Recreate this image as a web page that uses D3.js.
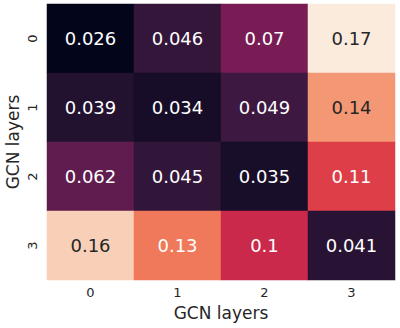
<!DOCTYPE html>
<html lang="en">
<head>
    <meta charset="UTF-8">
    <title>heatmap</title>
    <script src="https://d3js.org/d3.v7.min.js"></script>
    <style>
        body { margin: 0; background: white; }
        text { font-family: "DejaVu Sans", sans-serif; }
    </style>
</head>
<body>
    <script>
        let rows = ['0', '1', '2', '3'];
        let cols = ['0', '1', '2', '3'];
        let values = [
            [0.026, 0.046, 0.07, 0.17],
            [0.039, 0.034, 0.049, 0.14],
            [0.062, 0.045, 0.035, 0.11],
            [0.16, 0.13, 0.1, 0.041]
        ];
        let xTitle = 'GCN layers';
        let yTitle = 'GCN layers';

        let width = 400;
        let height = 328;
        let margin = {left: 47, top: 4, right: 5, bottom: 48};

        let cells = [];
        values.forEach((r, i) => r.forEach((v, j) => cells.push({row: rows[i], col: cols[j], v: v})));

        // seaborn "rocket"
        let rocket = d3.interpolateRgbBasis(['#03051a', '#35193e', '#701f57', '#ad1759',
                                              '#e13342', '#f37651', '#f6b48f', '#faebdd']);
        let color = d3.scaleSequential(rocket)
            .domain(d3.extent(cells, d => d.v));

        // relative luminance, like seaborn's annotation colour choice
        function lum(c) {
            let rgb = d3.rgb(c);
            let f = v => { v /= 255; return v <= 0.03928 ? v / 12.92 : Math.pow((v + 0.055) / 1.055, 2.4); };
            return 0.2126 * f(rgb.r) + 0.7152 * f(rgb.g) + 0.0722 * f(rgb.b);
        }

        let x = d3.scaleBand().domain(cols).range([margin.left, width - margin.right]);
        let y = d3.scaleBand().domain(rows).range([margin.top, height - margin.bottom]);

        let svg = d3.select('body').append('svg')
            .attr('width', width)
            .attr('height', height);

        svg.selectAll('rect.cell').data(cells).enter().append('rect')
            .attr('class', 'cell')
            .attr('x', d => x(d.col))
            .attr('y', d => y(d.row))
            .attr('width', x.bandwidth())
            .attr('height', y.bandwidth())
            .attr('fill', d => color(d.v))
            .attr('stroke', d => color(d.v))
            .attr('stroke-width', 0.5);

        svg.selectAll('text.annot').data(cells).enter().append('text')
            .attr('class', 'annot')
            .attr('x', d => x(d.col) + x.bandwidth() / 2)
            .attr('y', d => y(d.row) + y.bandwidth() / 2)
            .attr('text-anchor', 'middle')
            .attr('dy', '0.36em')
            .style('font-size', '18px')
            .attr('fill', d => lum(color(d.v)) > 0.408 ? '#262626' : 'white')
            .text(d => d.v);

        let xAxis = svg.append('g')
            .attr('transform', `translate(0,${height - margin.bottom})`)
            .call(d3.axisBottom(x).tickSize(0).tickPadding(8));
        let yAxis = svg.append('g')
            .attr('transform', `translate(${margin.left},0)`)
            .call(d3.axisLeft(y).tickSize(0).tickPadding(0));
        [xAxis, yAxis].forEach(a => {
            a.select('.domain').remove();
            a.selectAll('text')
                .style('font-family', '"DejaVu Sans", sans-serif')
                .style('font-size', '13px')
                .attr('fill', '#262626');
        });
        yAxis.selectAll('text')
            .attr('x', null).attr('dy', null)
            .attr('text-anchor', 'middle')
            .attr('transform', 'translate(-10,0) rotate(-90)');

        svg.append('text')
            .attr('x', (margin.left + width - margin.right) / 2)
            .attr('y', 319)
            .attr('text-anchor', 'middle')
            .style('font-size', '17px')
            .attr('fill', '#262626')
            .text(xTitle);

        svg.append('text')
            .attr('transform', `translate(19,${(margin.top + height - margin.bottom) / 2}) rotate(-90)`)
            .attr('text-anchor', 'middle')
            .style('font-size', '17px')
            .attr('fill', '#262626')
            .text(yTitle);
    </script>
</body>
</html>
